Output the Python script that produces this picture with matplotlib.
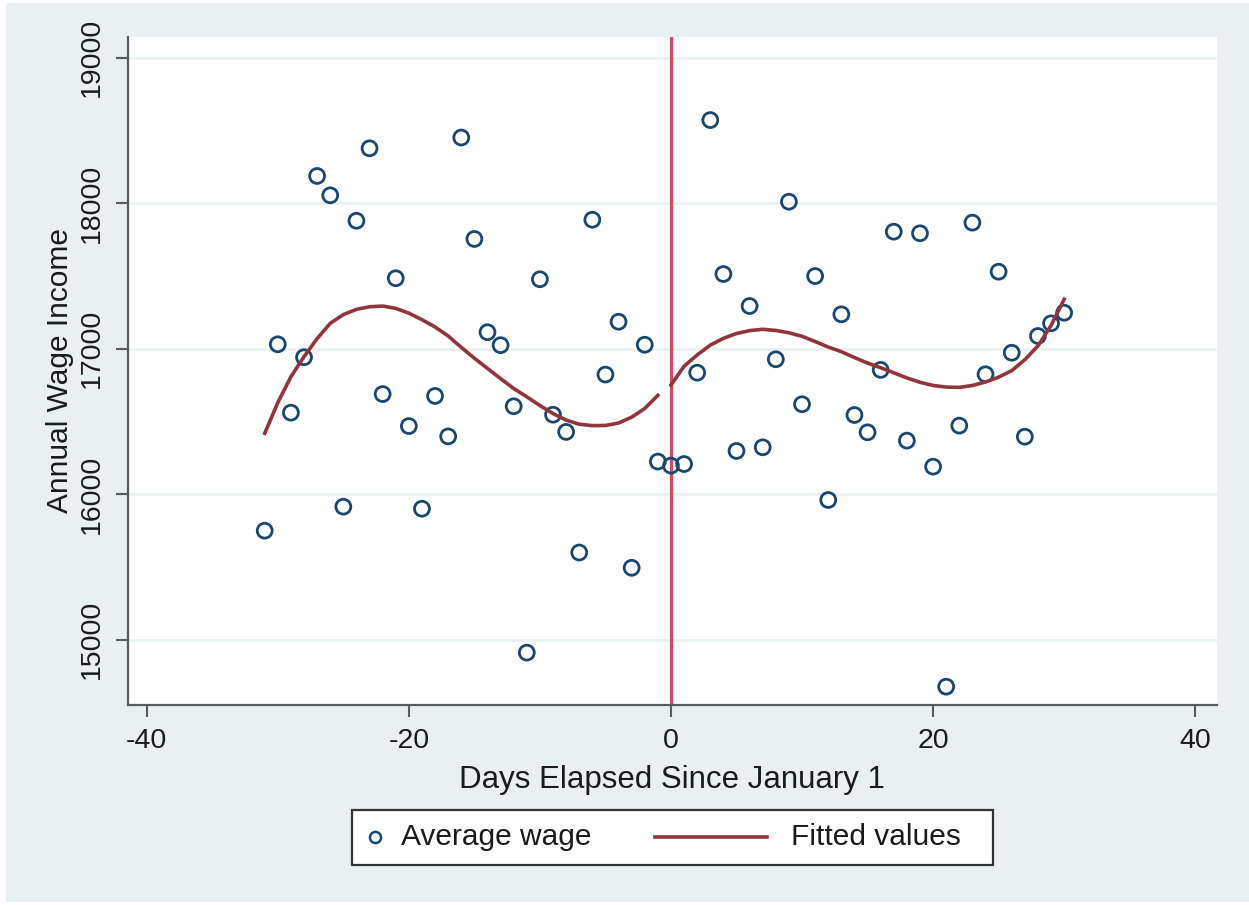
import matplotlib
matplotlib.use("Agg")
import matplotlib.pyplot as plt
import matplotlib.patches as patches
from matplotlib.lines import Line2D

plt.rcParams['font.family'] = ['Liberation Sans', 'DejaVu Sans']
plt.rcParams['axes.unicode_minus'] = False

# data
days = list(range(-31, 31))
wage = [15750, 17031, 16561, 16942, 18188, 18055, 15915, 17880, 18378, 16689,
        17485, 16469, 15901, 16676, 16398, 18452, 17755, 17114, 17025, 16605,
        14912, 17478, 16547, 16429, 15600, 17887, 16823, 17186, 15495, 17028,
        16225,
        16197, 16208, 16836, 18572, 17514, 16298, 17294, 16323, 16928, 18011,
        16619, 17500, 15961, 17237, 16545, 16426, 16855, 17805, 16369, 17794,
        16190, 14678, 16472, 17867, 16825, 17530, 16973, 16396, 17088, 17175,
        17248]

fit_days_left = list(range(-31, 0))
fit_left = [16419, 16630, 16808, 16946, 17070, 17175, 17235, 17271, 17289, 17294,
            17278, 17245, 17200, 17150, 17088, 17010, 16935, 16865, 16795, 16727,
            16670, 16610, 16555, 16510, 16482, 16472, 16473, 16490, 16530, 16590,
            16680]
fit_days_right = list(range(0, 31))
fit_right = [16751, 16880, 16958, 17025, 17072, 17105, 17125, 17134, 17126, 17110,
             17086, 17050, 17012, 16980, 16940, 16902, 16870, 16835, 16800, 16770,
             16748, 16737, 16735, 16748, 16772, 16805, 16850, 16925, 17020, 17160,
             17340]

xticks = [-40, -20, 0, 20, 40]
yticks = [15000, 16000, 17000, 18000, 19000]

W, H = 1249, 905
bg = '#e8f0f2'
navy = '#1a476f'
maroon = '#90353b'
axis_gray = '#5a5a5a'

fig = plt.figure(figsize=(W / 100, H / 100), dpi=100)
fig.patch.set_facecolor('white')
fig.patches.append(patches.Rectangle((6 / W, 3 / H), 1 - 6 / W, 1 - 6 / H,
                                     transform=fig.transFigure, facecolor=bg,
                                     edgecolor='none', zorder=-10))

ax = fig.add_axes([128 / W, 1 - 705 / H, (1216.7 - 128) / W, (705 - 36.7) / H])
ax.set_facecolor('white')

# grid
for yv in yticks:
    ax.axhline(yv, color='#eaf2f3', lw=2.2, zorder=0)

# cutoff line
ax.axvline(0, color='#d5486a', lw=2.3, zorder=2)

ax.scatter(days, wage, s=115, facecolors='none', edgecolors=navy,
           linewidths=2.0, zorder=3)
ax.plot(fit_days_left, fit_left, color=maroon, lw=2.6, zorder=4)
ax.plot(fit_days_right, fit_right, color=maroon, lw=2.6, zorder=4)

ax.set_xlim(-41.43, 41.64)
ax.set_ylim(14552, 19145)
ax.set_xticks(xticks)
ax.set_yticks(yticks)
ax.set_yticklabels([str(v) for v in yticks], rotation=90, va='center')

for side in ['top', 'right']:
    ax.spines[side].set_visible(False)
for side in ['left', 'bottom']:
    ax.spines[side].set_color(axis_gray)
    ax.spines[side].set_linewidth(1.6)
ax.tick_params(axis='both', direction='out', length=8.5, width=1.5,
               color=axis_gray, labelsize=20.5, labelcolor='#1a1a1a')
ax.tick_params(axis='y', pad=8)
ax.tick_params(axis='x', pad=8)

ax.set_xlabel('Days Elapsed Since January 1', fontsize=22.5, color='#1a1a1a',
              labelpad=8)
ax.set_ylabel('Annual Wage Income', fontsize=21.5, color='#1a1a1a', labelpad=4)

# legend drawn by hand to match the box layout
fig.patches.append(patches.Rectangle((352 / W, 1 - 865 / H), (993 - 352) / W,
                                     55 / H, transform=fig.transFigure,
                                     facecolor='white', edgecolor='#333333',
                                     linewidth=1.6, zorder=5))
ly = 1 - 837 / H
fig.lines.append(Line2D([375 / W], [ly], transform=fig.transFigure, marker='o',
                        markersize=8, markerfacecolor='none',
                        markeredgecolor=navy, markeredgewidth=1.8, zorder=6))
fig.text(401 / W, ly, 'Average wage', fontsize=21.5, va='center', ha='left',
         color='#1a1a1a', zorder=6)
fig.lines.append(Line2D([655 / W, 767 / W], [ly, ly], transform=fig.transFigure,
                        color=maroon, lw=2.6, zorder=6))
fig.text(791 / W, ly, 'Fitted values', fontsize=21.5, va='center', ha='left',
         color='#1a1a1a', zorder=6)

fig.savefig('out.png', dpi=100, facecolor=fig.get_facecolor())
